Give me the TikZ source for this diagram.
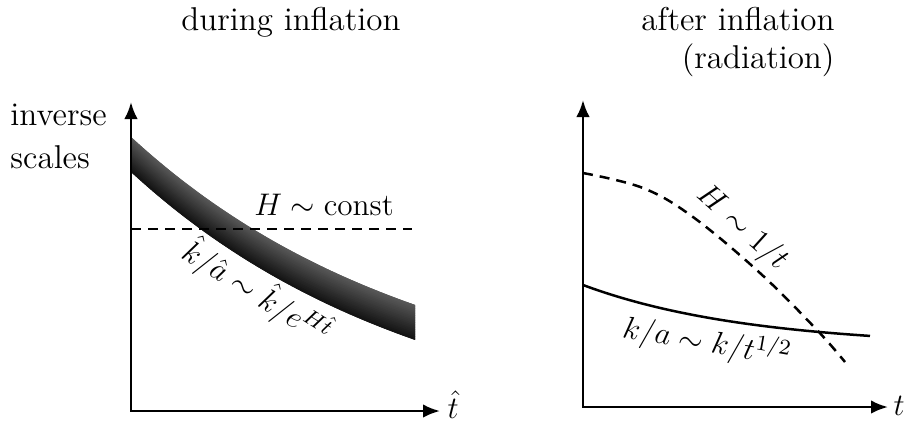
\RequirePackage{fix-cm}
\documentclass[tikz,border=0pt]{standalone}
\usepackage{amsmath}
\usepackage{fontspec}
\usetikzlibrary{arrows.meta}
\begin{document}
\begin{tikzpicture}[x=0.4pt,y=-0.4pt,
  lbl/.style={font=\fontsize{12.5}{15}\selectfont, inner sep=0pt},
  txt/.style={font=\fontsize{13.2}{16}\selectfont, inner sep=0pt},
  axisline/.style={line width=1pt,{Latex[length=6.8pt,width=5.4pt]}-{Latex[length=6.8pt,width=5.4pt]}},
  dsh/.style={line width=1pt, dash pattern=on 4pt off 2.8pt},
  crv/.style={line width=1pt}]
\useasboundingbox (0,0) rectangle (909,423);

% ---------- left panel ----------
\begin{scope}
  \clip plot[domain=131:415,samples=50] (\x,{408-271*exp(-0.003406*(\x-131))})
    -- plot[domain=415:131,samples=50] (\x,{408-271*exp(-0.003406*(\x-131))+35}) -- cycle;
  \foreach \i in {0,...,20} {
    \pgfmathsetmacro\oa{\i*35/20}
    \pgfmathsetmacro\cl{64+28*\i/20}
    \draw[line width=1.6pt, black!\cl]
      plot[domain=115:430,samples=50] (\x,{408-271*exp(-0.003406*(\x-131))+\oa});
  }
\end{scope}
\coordinate (D1a) at (131,229);
\coordinate (D1b) at (412,229);
\draw[dsh] (D1a) -- (D1b);

\coordinate (Y1) at (131,102);
\coordinate (O1) at (131,411);
\coordinate (X1) at (440,411);
\draw[axisline] (Y1) -- (O1) -- (X1);

\node[lbl, anchor=base west] (that) at (447,418) {$\hat t$};
\node[txt, anchor=base] (title1) at (291,30) {during inflation};
\node[txt, anchor=base west] (inv) at (10,125) {inverse};
\node[txt, anchor=base west] (sca) at (10,168) {scales};
\node[lbl, anchor=base] (hconst) at (324,215) {$H \sim \mathrm{const}$};
\node[lbl, rotate=-32] (band) at (257,292) {$\hat k/\hat a \sim \hat k/e^{H\hat t}$};

% ---------- right panel ----------
\draw[dsh] plot[smooth, tension=0.6] coordinates {(583,173) (643,188) (693,217) (760,273) (817,330) (845,362)};
\draw[crv] plot[domain=583:870,samples=50] (\x,{285+62*(1-exp(-0.006*(\x-583)))});

\coordinate (Y2) at (583,100);
\coordinate (O2) at (583,407);
\coordinate (X2) at (888,407);
\draw[axisline] (Y2) -- (O2) -- (X2);

\node[lbl, anchor=base west] (tt) at (893,415) {$t$};
\node[txt, anchor=base east] (title2a) at (835,30) {after inflation};
\node[txt, anchor=base east] (title2b) at (835,68) {(radiation)};
\node[lbl, rotate=-42] (hlab) at (742,228) {$H \sim 1/t$};
\node[lbl, rotate=-10] (klab) at (707,342) {$k/a \sim k/t^{1/2}$};
\end{tikzpicture}
\end{document}
